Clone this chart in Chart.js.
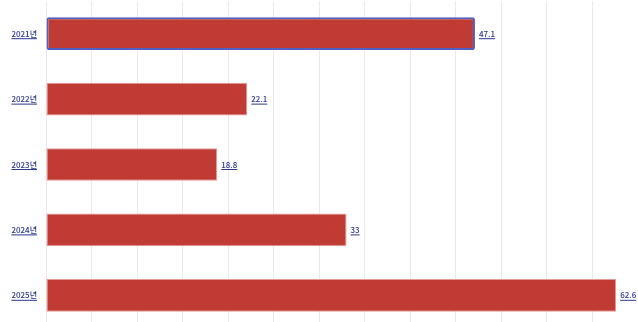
<!DOCTYPE html>
<html><head><meta charset="utf-8">
<script src="https://cdn.jsdelivr.net/npm/chart.js@4"></script>
<style>html,body{margin:0;padding:0;background:#fff;overflow:hidden;width:638px;height:322px}
#wrap{position:relative;width:638px;height:328px}</style>
</head><body>
<div id="wrap"><canvas id="c" width="638" height="328"></canvas></div>
<script>
const categories = ['2021년','2022년','2023년','2024년','2025년'];
const values = [47.1, 22.1, 18.8, 33, 62.6];
const valueLabels = ['47.1','22.1','18.8','33','62.6'];

const labelColor = '#2a3790';
const fontFam = '"Noto Sans CJK KR", "Noto Sans", sans-serif';

function underlinedText(ctx, text, x, y, align) {
  ctx.textAlign = align;
  ctx.fillText(text, x, y);
  const w = ctx.measureText(text).width;
  const x0 = align === 'right' ? x - w : x;
  ctx.fillRect(x0, y + 4.5, w, 1);
}

const labelPlugin = {
  id: 'labels',
  afterDatasetsDraw(chart) {
    const ctx = chart.ctx;
    const ys = chart.scales.y;
    const meta = chart.getDatasetMeta(0);
    ctx.save();
    ctx.font = '500 8px ' + fontFam;
    ctx.fillStyle = labelColor;
    ctx.textBaseline = 'middle';
    categories.forEach((c, i) => {
      const y = ys.getPixelForTick(i);
      underlinedText(ctx, c, 37, y, 'right');
      const bar = meta.data[i];
      underlinedText(ctx, valueLabels[i], bar.x + 4, y, 'left');
    });
    ctx.restore();
  }
};

new Chart(document.getElementById('c'), {
  type: 'bar',
  data: {
    labels: categories,
    datasets: [{
      data: values,
      backgroundColor: '#c03b34',
      borderColor: ['#4f5fc4', '#e59a96', '#e59a96', '#e59a96', '#e59a96'],
      borderWidth: [2, 1, 1, 1, 1],
      borderRadius: [2, 0, 0, 0, 0],
      borderSkipped: false,
      categoryPercentage: 0.5,
      barPercentage: 1.0
    }]
  },
  options: {
    indexAxis: 'y',
    responsive: false,
    animation: false,
    layout: { padding: { left: 46, top: 1, right: 0, bottom: 0 } },
    plugins: { legend: { display: false }, tooltip: { enabled: false } },
    scales: {
      x: {
        min: 0, max: 65,
        ticks: { display: false, stepSize: 5 },
        grid: { color: '#eee6e8', lineWidth: 1, drawTicks: false },
        border: { display: false }
      },
      y: {
        ticks: { display: false },
        grid: { display: false, drawTicks: false },
        border: { display: false }
      }
    }
  },
  plugins: [labelPlugin]
});
</script>
</body></html>
